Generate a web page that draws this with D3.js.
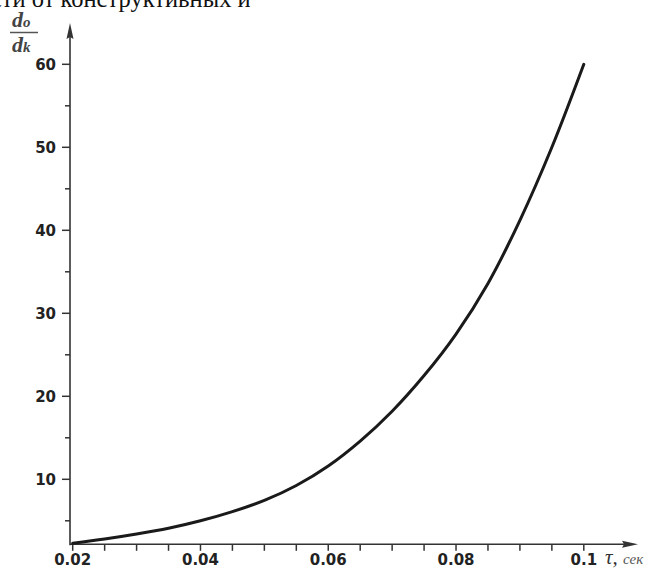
<!DOCTYPE html>
<html><head><meta charset="utf-8">
<script src="https://cdn.jsdelivr.net/npm/d3@7"></script>
<style>body{margin:0;background:#fff}svg{display:block}</style>
</head><body>
<svg id="c" width="666" height="570"></svg>
<script>
// data
const tau = [0.02,0.025,0.03,0.035,0.04,0.045,0.05,0.055,0.06,0.065,0.07,0.075,0.08,0.085,0.09,0.095,0.1];
const ratio = [2.3,2.8,3.4,4.1,5.0,6.1,7.45,9.25,11.6,14.6,18.2,22.5,27.5,33.6,41.2,50.0,60.0];
const xTickLabels = ["0.02","0.04","0.06","0.08","0.1"];
const xTickValues = [0.02,0.04,0.06,0.08,0.1];
const yTickLabels = ["10","20","30","40","50","60"];
const yTickValues = [10,20,30,40,50,60];
const xMinor = [0.02,0.025,0.03,0.035,0.04,0.045,0.05,0.055,0.06,0.065,0.07,0.075,0.08,0.085,0.09,0.095,0.1];
const yMinor = [5,15,25,35,45,55];

const svg = d3.select("#c");
const x = d3.scaleLinear().domain([0.02,0.1]).range([72.7,583.8]);
const y = d3.scaleLinear().domain([0,60]).range([562.3,64.3]);
const axisY = 544.3, axisX = 70;
const axisCol = "#333";

// top cut-off text
svg.append("text").attr("x",-9).attr("y",7)
  .attr("font-family","Liberation Serif").attr("font-size",24.5).attr("fill","#111")
  .text("сти от конструктивных и");

// x axis
svg.append("line").attr("x1",axisX).attr("x2",626).attr("y1",axisY).attr("y2",axisY)
  .attr("stroke",axisCol).attr("stroke-width",1.6);
svg.append("path").attr("d",`M${638},${axisY} L${622},${axisY-3.5} L${624},${axisY} L${622},${axisY+3.5} Z`).attr("fill",axisCol);
const gx = svg.append("g");
gx.selectAll("line").data(xMinor).join("line")
  .attr("x1",d=>x(d)).attr("x2",d=>x(d)).attr("y1",axisY).attr("y2",axisY+6.5)
  .attr("stroke",axisCol).attr("stroke-width",1.5);
gx.selectAll("text").data(xTickValues).join("text")
  .attr("x",d=>x(d)).attr("y",565).attr("text-anchor","middle")
  .attr("font-family","DejaVu Sans").attr("font-weight","bold").attr("font-size",15).attr("fill","#222")
  .text((d,i)=>xTickLabels[i]);

// x axis label
const xl = svg.append("text").attr("x",605).attr("y",564)
  .attr("font-family","Liberation Serif").attr("font-style","italic").attr("fill","#333");
xl.append("tspan").attr("font-size",21).text("τ, ");
xl.append("tspan").attr("font-size",15).attr("fill","#555").text("сек");

// y axis
svg.append("line").attr("x1",axisX).attr("x2",axisX).attr("y1",axisY+1).attr("y2",36)
  .attr("stroke",axisCol).attr("stroke-width",1.6);
svg.append("path").attr("d",`M${axisX},${23} L${axisX-3.5},${39} L${axisX},${37} L${axisX+3.5},${39} Z`).attr("fill",axisCol);
const gy = svg.append("g");
gy.selectAll("line.maj").data(yTickValues).join("line").attr("class","maj")
  .attr("x1",axisX-8).attr("x2",axisX).attr("y1",d=>y(d)).attr("y2",d=>y(d))
  .attr("stroke",axisCol).attr("stroke-width",1.5);
gy.selectAll("line.min").data(yMinor).join("line").attr("class","min")
  .attr("x1",axisX-5).attr("x2",axisX).attr("y1",d=>y(d)).attr("y2",d=>y(d))
  .attr("stroke",axisCol).attr("stroke-width",1.5);
gy.selectAll("text").data(yTickValues).join("text")
  .attr("x",56).attr("y",d=>y(d)+5.5).attr("text-anchor","end")
  .attr("font-family","DejaVu Sans").attr("font-weight","bold").attr("font-size",15).attr("fill","#222")
  .text((d,i)=>yTickLabels[i]);

// y axis label: d0 / dk
const lab = svg.append("g").attr("fill","#444").attr("font-family","Liberation Serif").attr("font-style","italic").attr("font-weight","bold");
const t1 = lab.append("text").attr("x",12).attr("y",27);
t1.append("tspan").attr("font-size",22).text("d");
t1.append("tspan").attr("font-size",15).text("o");
svg.append("line").attr("x1",10).attr("x2",38).attr("y1",32.5).attr("y2",32.5).attr("stroke","#555").attr("stroke-width",1.5);
const t2 = lab.append("text").attr("x",12).attr("y",52);
t2.append("tspan").attr("font-size",22).text("d");
t2.append("tspan").attr("font-size",15).text("k");

// curve
const pts = tau.map((t,i)=>[t,ratio[i]]);
svg.append("path").datum(pts)
  .attr("d",d3.line().x(d=>x(d[0])).y(d=>y(d[1])).curve(d3.curveCatmullRom.alpha(0.5)))
  .attr("fill","none").attr("stroke","#1a1a1a").attr("stroke-width",3).attr("stroke-linecap","round");
</script>
</body></html>
